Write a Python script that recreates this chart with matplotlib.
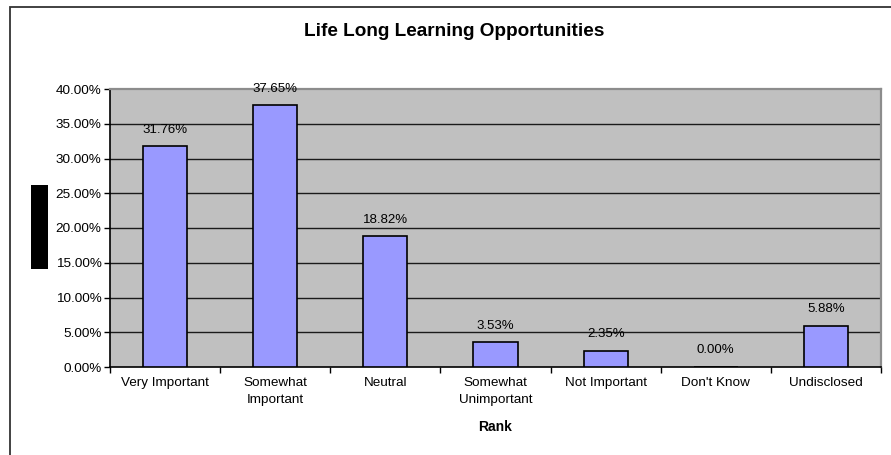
import matplotlib
matplotlib.use("Agg")
import matplotlib.pyplot as plt
from matplotlib.patches import Rectangle
from matplotlib.ticker import FixedLocator, FuncFormatter

plt.rcParams['font.family'] = ['Liberation Sans', 'DejaVu Sans']

categories = ["Very Important", "Somewhat\nImportant", "Neutral", "Somewhat\nUnimportant",
              "Not Important", "Don't Know", "Undisclosed"]
values = [31.76, 37.65, 18.82, 3.53, 2.35, 0.00, 5.88]
yticks = [0, 5, 10, 15, 20, 25, 30, 35, 40]
title = "Life Long Learning Opportunities"
xlabel = "Rank"

W, H = 891, 455
fig = plt.figure(figsize=(W / 100, H / 100), dpi=100)
fig.patch.set_facecolor('white')

# outer chart border (extends past right/bottom)
fig.add_artist(Rectangle((9.5 / W, -0.1), 1.2, 1.1 - 7.5 / H, transform=fig.transFigure,
                         fill=False, edgecolor='#333333', linewidth=1.3, clip_on=False))
# redacted y-axis label block
fig.add_artist(Rectangle((31 / W, 1 - 269 / H), 17 / W, 84 / H, transform=fig.transFigure,
                         facecolor='black', edgecolor='none'))

ax = fig.add_axes([110 / W, 1 - 367 / H, 771 / W, 278 / H])
ax.set_facecolor('#C0C0C0')

x = list(range(len(categories)))
ax.bar(x, values, width=0.4, color='#9999FF', edgecolor='black', linewidth=1.2, zorder=3)

ax.set_xlim(-0.5, len(categories) - 0.5)
ax.set_ylim(0, 40)

ax.set_yticks(yticks)
ax.yaxis.set_major_formatter(FuncFormatter(lambda v, p: f"{v:.2f}%"))
for yv in yticks[1:-1]:
    ax.axhline(yv, color='#1a1a1a', linewidth=1.0, zorder=1)

# x ticks at category boundaries, labels at centres
ax.xaxis.set_major_locator(FixedLocator([i - 0.5 for i in range(len(categories) + 1)]))
ax.xaxis.set_minor_locator(FixedLocator(x))
ax.set_xticklabels([])
ax.set_xticklabels(categories, minor=True, fontsize=9.7, linespacing=1.55)
ax.tick_params(axis='x', which='major', length=4, direction='out', width=1, color='black')
ax.tick_params(axis='x', which='minor', length=0, pad=7)
ax.tick_params(axis='y', length=4, direction='out', width=1, labelsize=9.7, pad=2)

for s in ['left', 'bottom']:
    ax.spines[s].set_color('black')
    ax.spines[s].set_linewidth(1.2)
for s in ['top', 'right']:
    ax.spines[s].set_color('#8c8c8c')
    ax.spines[s].set_linewidth(1.6)

for xi, v in zip(x, values):
    ax.annotate(f"{v:.2f}%", (xi, v), xytext=(0, 12), textcoords='offset points',
                ha='center', va='center', fontsize=9.5)

fig.text(454 / W, 1 - 32 / H, title, ha='center', va='center',
         fontsize=13.7, fontweight='bold')
fig.text(495 / W, 1 - 427 / H, xlabel, ha='center', va='center',
         fontsize=10, fontweight='bold')

fig.savefig("out.png", dpi=100)
